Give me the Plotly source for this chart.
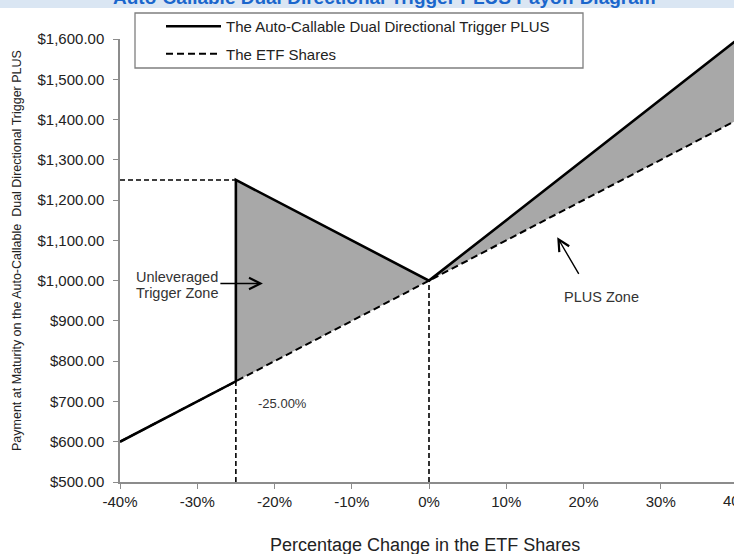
import plotly.graph_objects as go

# ---- data ----
etf_change_pct = [-40, -25, 0, 40]          # % change in ETF shares
etf_value = [600, 750, 1000, 1400]          # ETF shares payoff
plus_change_pct = [-40, -25, -25, 0, 40]    # % change for PLUS payoff
plus_value = [600, 750, 1250, 1000, 1600]   # PLUS payoff
trigger_pct = -25
trigger_value_low = 750
trigger_value_high = 1250
initial_value = 1000
axis_floor = 500
x_ticks = [-40, -30, -20, -10, 0, 10, 20, 30]
x_tick_labels = ["-40%", "-30%", "-20%", "-10%", "0%", "10%", "20%", "30%"]
y_ticks = [500, 600, 700, 800, 900, 1000, 1100, 1200, 1300, 1400, 1500, 1600]

FONT = "Liberation Sans, Arial, sans-serif"
W, H = 734, 554
L, R, T, B = 120, 0, 39, 72
pw, ph = W - L - R, H - T - B
px_per_pct = 7.725
x_max = -40 + pw / px_per_pct

def px(xp):
    return (xp - L) / pw

def py(yp):
    return (H - B - yp) / ph

fig = go.Figure()

# shaded zones (below lines)
fig.add_trace(go.Scatter(x=etf_change_pct[1:], y=etf_value[1:], mode="lines",
                         line=dict(width=0), showlegend=False, hoverinfo="skip"))
fig.add_trace(go.Scatter(x=plus_change_pct[1:], y=plus_value[1:], mode="lines",
                         line=dict(width=0), fill="tonexty", fillcolor="#a8a8a8",
                         showlegend=False, hoverinfo="skip"))

# reference dashed guides
guide = dict(color="black", width=1.6, dash="5px,3px")
fig.add_trace(go.Scatter(x=[-40, trigger_pct], y=[trigger_value_high, trigger_value_high],
                         mode="lines", line=guide, showlegend=False, hoverinfo="skip"))
fig.add_trace(go.Scatter(x=[trigger_pct, trigger_pct], y=[axis_floor, trigger_value_low],
                         mode="lines", line=guide, showlegend=False, hoverinfo="skip"))
fig.add_trace(go.Scatter(x=[0, 0], y=[axis_floor, initial_value],
                         mode="lines", line=guide, showlegend=False, hoverinfo="skip"))

# main lines
fig.add_trace(go.Scatter(x=plus_change_pct, y=plus_value, mode="lines",
                         name="The Auto-Callable Dual Directional Trigger PLUS",
                         legendgroup="a",
                         line=dict(color="black", width=2.6)))
fig.add_trace(go.Scatter(x=[etf_change_pct[0], etf_change_pct[-1]], y=[etf_value[0], etf_value[-1]],
                         mode="lines", name="The ETF Shares", legendgroup="b",
                         line=dict(color="black", width=2, dash="7px,4px")))

axis_color = "#8c8c8c"
fig.update_xaxes(range=[-40, x_max], tickvals=x_ticks, ticktext=x_tick_labels,
                 showgrid=False, zeroline=False, showline=True, linecolor=axis_color,
                 linewidth=1.5, ticks="outside", ticklen=5, tickcolor=axis_color,
                 tickfont=dict(family=FONT, size=15, color="#222"), automargin=False)
fig.update_yaxes(range=[500, 1600], tickvals=y_ticks, tickformat="$,.2f",
                 showgrid=False, zeroline=False, showline=True, linecolor=axis_color,
                 linewidth=1.5, ticks="outside", ticklen=5, tickcolor=axis_color,
                 ticklabelstandoff=6,
                 tickfont=dict(family=FONT, size=15, color="#222"), automargin=False)

annos = []
# title (cut off at top)
annos.append(dict(text="<b>Auto-Callable Dual Directional Trigger PLUS Payoff Diagram</b>",
                  xref="paper", yref="paper", x=px(384), y=py(10), xanchor="center", yanchor="bottom",
                  showarrow=False, font=dict(family=FONT, size=19, color="#1a66cc")))
# axis titles
annos.append(dict(text="Percentage Change in the ETF Shares", xref="paper", yref="paper",
                  x=px(425), y=py(545), xanchor="center", yanchor="middle", showarrow=False,
                  font=dict(family=FONT, size=18, color="#222")))
annos.append(dict(text="Payment at Maturity on the Auto-Callable \u00a0Dual Directional Trigger PLUS",
                  xref="paper", yref="paper", x=px(17), y=py(251), textangle=-90,
                  xanchor="center", yanchor="middle", showarrow=False,
                  font=dict(family=FONT, size=12.5, color="#222")))
# 40% clipped label
annos.append(dict(text="40%", xref="paper", yref="paper", x=px(738), y=py(500),
                  xanchor="center", yanchor="middle", showarrow=False,
                  font=dict(family=FONT, size=15, color="#222")))
# zone labels
annos.append(dict(text="Unleveraged", x=-38.2, y=1009, xanchor="left", yanchor="middle",
                  showarrow=False, font=dict(family=FONT, size=14.5, color="#333")))
annos.append(dict(text="Trigger Zone", x=-38.2, y=969, xanchor="left", yanchor="middle",
                  showarrow=False, font=dict(family=FONT, size=14.5, color="#333")))
annos.append(dict(text="", x=-21.5, y=993, ax=-27.2, ay=993, axref="x", ayref="y",
                  showarrow=True, arrowhead=5, arrowsize=1.6, arrowwidth=1.4, arrowcolor="black"))
annos.append(dict(text="-25.00%", x=-19.0, y=696, xanchor="center", yanchor="middle",
                  showarrow=False, font=dict(family=FONT, size=13, color="#333")))
annos.append(dict(text="PLUS Zone", x=22.3, y=959, xanchor="center", yanchor="middle",
                  showarrow=False, font=dict(family=FONT, size=14.5, color="#333")))
annos.append(dict(text="", x=16.6, y=1108, ax=19.5, ay=1013, axref="x", ayref="y",
                  showarrow=True, arrowhead=5, arrowsize=1.6, arrowwidth=1.4, arrowcolor="black"))

shapes = [
    dict(type="rect", xref="paper", yref="paper", x0=px(-5), x1=px(760), y0=py(8), y1=py(-20),
         fillcolor="#dae6f3", line=dict(width=0), layer="below"),
    dict(type="rect", xref="paper", yref="paper", x0=px(135), x1=px(583), y0=py(68), y1=py(13),
         fillcolor="white", line=dict(color="#7f7f7f", width=1.3), layer="below"),
]

fig.update_layout(
    width=W, height=H, margin=dict(l=L, r=R, t=T, b=B, autoexpand=False),
    paper_bgcolor="white", plot_bgcolor="white",
    font=dict(family=FONT, size=15, color="#222"),
    showlegend=True,
    legend=dict(x=px(161), y=py(10), xanchor="left", yanchor="top", bgcolor="rgba(0,0,0,0)",
                borderwidth=0, itemwidth=55, tracegroupgap=5,
                font=dict(family=FONT, size=15, color="#222")),
    annotations=annos, shapes=shapes,
)

fig.write_html("out.html", config={"displayModeBar": False},
               post_script="document.body.style.margin='0';document.body.style.overflow='hidden';")
